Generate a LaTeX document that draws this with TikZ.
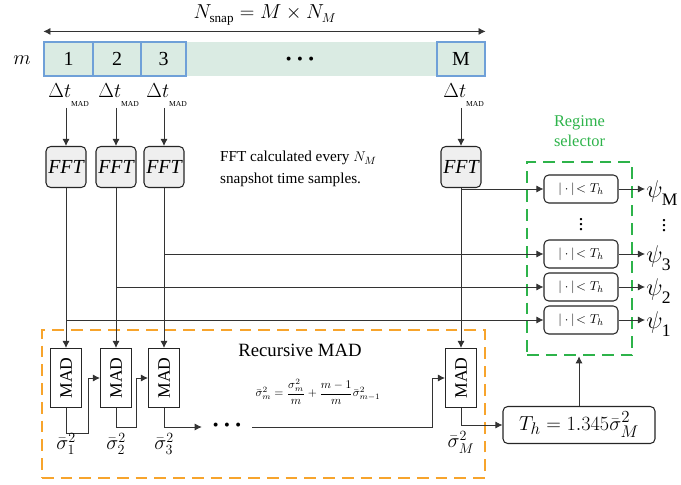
\documentclass[tikz,border=0pt]{standalone}
\usepackage{amsmath,amssymb}
\usepackage{fontspec}
\setmainfont{Liberation Serif}
\usepackage{xcolor}
\usetikzlibrary{arrows.meta, positioning, calc}
\definecolor{barfill}{HTML}{DAEBE3}
\definecolor{barline}{HTML}{6FA0D8}
\definecolor{madorange}{HTML}{F7A42C}
\definecolor{selgreen}{HTML}{2DB34A}
\definecolor{fftgray}{HTML}{EFEFEF}

\begin{document}
\begin{tikzpicture}[
    x=0.03cm, y=-0.03cm,
    >={Latex[length=6pt,width=6pt]},
    seg/.style={rectangle, draw=barline, line width=1pt, fill=barfill, minimum height=1.02cm, minimum width=1.44cm, inner sep=0pt, font=\fontsize{17}{20}\selectfont},
    fftbox/.style={rectangle, draw=black!85, line width=0.9pt, fill=fftgray, rounded corners=4pt, minimum width=1.2cm, minimum height=1.23cm, inner sep=0pt, font=\fontsize{17}{20}\selectfont\itshape},
    madbox/.style={rectangle, draw=black!85, line width=0.9pt, fill=white, minimum width=0.93cm, minimum height=1.77cm, inner sep=0pt, font=\fontsize{15}{16}\selectfont},
    thr/.style={rectangle, draw=black!85, line width=0.9pt, fill=white, rounded corners=4pt, minimum width=2.22cm, minimum height=0.84cm, inner sep=0pt, font=\fontsize{11}{13}\selectfont},
    dtlbl/.style={inner sep=1pt, font=\fontsize{19}{22}\selectfont},
    siglbl/.style={inner sep=1pt, font=\fontsize{18}{21}\selectfont},
    psilbl/.style={anchor=west, inner sep=1pt, font=\fontsize{22}{24}\selectfont},
    conn/.style={line width=0.7pt, draw=black!80},
    dashbox/.style={rectangle, line width=2.2pt, dash pattern=on 10pt off 6pt, inner sep=0pt},
]
\useasboundingbox (0,0) rectangle (681,485);

% -- TOP: snapshot segments --
\node[font=\fontsize{16}{19}\selectfont] (nsnap) at (265,15) {$N_{\text{snap}} = M \times N_M$};
\node[font=\fontsize{17}{20}\selectfont] (mlbl) at (22,60) {$m$};
\node[seg, draw=none, minimum width=7.53cm] (gap) at (311.5,59) {};
\node[font=\fontsize{14}{16}\selectfont] (bardots) at (300,61) {\textbullet\,\,\textbullet\,\,\textbullet};
\node[seg, minimum width=1.47cm] (seg1) at (68.5,59) {1};
\node[seg] (seg2) at (117,59) {2};
\node[seg, minimum width=1.35cm] (seg3) at (163.5,59) {3};
\node[seg] (segM) at (461,59) {M};
\draw[conn,<->] ([yshift=0.3cm]seg1.north west) -- ([yshift=0.3cm]segM.north east);

% -- FFT per segment --
\foreach \i/\x in {1/66, 2/116, 3/164, M/461} {
    \node[dtlbl] (dt\i) at (\x+3,95) {$\Delta t_{\raisebox{-5pt}{\fontsize{6.5}{7}\selectfont MAD}}$};
    \node[fftbox] (fft\i) at (\x,167) {FFT};
    \draw[conn,->] (dt\i.south -| fft\i) -- (fft\i);
}
\node[anchor=west, align=left, font=\fontsize{13}{18.7}\selectfont] (ffttxt) at (216,169) {FFT calculated every $N_M$\\snapshot time samples.};

% -- dashed groups --
\node[dashbox, draw=madorange, minimum width=13.29cm, minimum height=4.44cm] (recbox) at (263.5,404) {};
\node[dashbox, draw=selgreen, minimum width=3.15cm, minimum height=5.79cm] (selector) at (579.5,258.5) {};
\node[above=0.3cm of selector, align=center, text=selgreen, font=\fontsize{14}{17}\selectfont] (sellbl) {Regime\\selector};

% -- regime selector --
\foreach \i/\y in {M/189, 3/254, 2/287, 1/320} {
    \node[thr] (thr\i) at (581,\y) {$|\cdot|\!<T_h$};
    \node[psilbl] (psi\i) at (645,\y+4) {$\psi_{\raisebox{-4pt}{\fontsize{15}{16}\selectfont\i}}$};
    \draw[conn,->] (thr\i) -- (thr\i -| psi\i.west);
}
\node[font=\fontsize{17}{19}\selectfont] (vdA) at (581,221) {$\vdots$};
\node[font=\fontsize{17}{19}\selectfont] (vdB) at (664,222) {$\vdots$};

% -- recursive MAD --
\foreach \i/\x in {1/66, 2/116, 3/164, M/461} {
    \node[madbox] (mad\i) at (\x,378) {\rotatebox{90}{MAD}};
    \draw[conn,->] (fft\i) -- (mad\i);
    \draw[conn,->] (fft\i |- thr\i) -- (thr\i);
}
\node[font=\fontsize{16}{19}\selectfont] (rectitle) at (300,350) {Recursive MAD};
\node[font=\fontsize{10}{12}\selectfont] (recform) at (318,392) {$\bar{\sigma}_m^2 = \dfrac{\sigma_m^2}{m} + \dfrac{m-1}{m}\bar{\sigma}_{m-1}^2$};
\node[minimum width=1.5cm, inner sep=0pt, font=\fontsize{14}{16}\selectfont] (dotsb) at (227,427) {\textbullet\,\,\textbullet\,\,\textbullet};

\draw[conn,->] (mad1.south) -- ++(0,25) -| ([xshift=-0.36cm]mad2.west) -- (mad2.west);
\draw[conn,->] (mad2.south) -- ++(0,19) -| ([xshift=-0.36cm]mad3.west) -- (mad3.west);
\draw[conn,->] (mad3.south) |- (dotsb.west);
\draw[conn,->] (dotsb.east) -| ([xshift=-0.39cm]madM.west) -- (madM.west);

\node[siglbl, below=0.72cm of mad1] (sig1) {$\bar{\sigma}_1^2$};
\node[siglbl, below=0.72cm of mad2] (sig2) {$\bar{\sigma}_2^2$};
\node[siglbl, below=0.72cm of mad3] (sig3) {$\bar{\sigma}_3^2$};
\node[siglbl, below=0.66cm of madM] (sigM) {$\bar{\sigma}_M^2$};

% -- threshold --
\node[thr, minimum width=4.56cm, minimum height=1.11cm, font=\fontsize{19}{21}\selectfont] (thbox) at (579,425) {$T_h = 1.345\bar{\sigma}_M^2$};
\draw[conn,->] (madM.south) |- (thbox.west);
\draw[conn,->] (thbox.north) -- (thbox.north |- selector.south);

\end{tikzpicture}
\end{document}
